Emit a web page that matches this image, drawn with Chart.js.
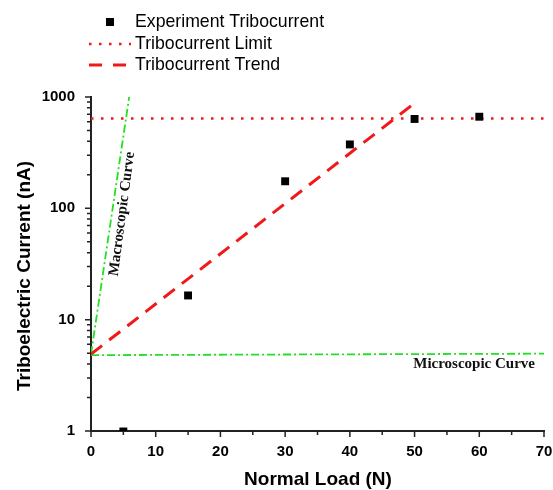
<!DOCTYPE html>
<html>
<head>
<meta charset="utf-8">
<script src="https://cdn.jsdelivr.net/npm/chart.js@4.4.0/dist/chart.umd.min.js"></script>
<style>
  body { margin: 0; background: #fff; }
</style>
</head>
<body>
<canvas id="tribo-chart" width="553" height="490"></canvas>
<script>
// measured tribocurrent
const load_points = [5, 15, 30, 40, 50, 60]
const current_points = [0.99, 16.5, 175, 375, 635, 665]

// limit line
const limit_x = [0, 70]
const limit_y = [640, 640]

// trend line
const trend_x = [0, 50.2]
const trend_y = [4.9, 900]

// guide curves
const macro_x = [0, 5.9]
const macro_y = [4.9, 1000]
const micro_x = [0, 70]
const micro_y = [4.8, 4.95]

// ticks
const x_major_ticks = [0, 10, 20, 30, 40, 50, 60, 70]
const x_minor_ticks = [5, 15, 25, 35, 45, 55, 65]
const y_major_ticks = [1, 10, 100, 1000]
const y_minor_ticks = [2, 3, 4, 5, 6, 7, 8, 9, 20, 30, 40, 50, 60, 70, 80, 90, 200, 300, 400, 500, 600, 700, 800, 900]

const legend_labels = ["Experiment Tribocurrent", "Tribocurrent Limit", "Tribocurrent Trend"]

function toPoints(xs, ys) {
  let pts = []
  for (let i = 0; i < xs.length; i++) {
    pts.push({x: xs[i], y: ys[i]})
  }
  return pts
}

const RED = '#f01818'
const GREEN = '#22e022'
const SANS = "'Liberation Sans', Arial, sans-serif"
const SERIF = "'Liberation Serif', 'Times New Roman', serif"

// ticks, titles, notes and legend
const extras = {
  id: 'extras',
  beforeDatasetsDraw(chart) {
    const ctx = chart.ctx
    const xs = chart.scales.x, ys = chart.scales.y
    const area = chart.chartArea
    ctx.save()
    ctx.strokeStyle = '#222'
    ctx.lineWidth = 1.5
    ctx.beginPath()
    x_major_ticks.forEach(v => { const p = xs.getPixelForValue(v); ctx.moveTo(p, area.bottom); ctx.lineTo(p, area.bottom + 6) })
    x_minor_ticks.forEach(v => { const p = xs.getPixelForValue(v); ctx.moveTo(p, area.bottom); ctx.lineTo(p, area.bottom + 4) })
    y_major_ticks.forEach(v => { const p = ys.getPixelForValue(v); ctx.moveTo(area.left, p); ctx.lineTo(area.left - 6, p) })
    y_minor_ticks.forEach(v => { const p = ys.getPixelForValue(v); ctx.moveTo(area.left, p); ctx.lineTo(area.left - 4, p) })
    ctx.stroke()
    ctx.restore()
  },
  afterDraw(chart) {
    const ctx = chart.ctx
    const xs = chart.scales.x, ys = chart.scales.y
    ctx.save()
    ctx.fillStyle = '#000'
    ctx.textAlign = 'center'
    ctx.textBaseline = 'middle'

    // axis titles
    ctx.font = "bold 19px " + SANS
    ctx.fillText("Normal Load (N)", 318, 480)
    ctx.save()
    ctx.translate(25, 276)
    ctx.rotate(-Math.PI / 2)
    ctx.fillText("Triboelectric Current (nA)", 0, 0)
    ctx.restore()

    // curve notes
    ctx.font = "bold 15px " + SERIF
    ctx.fillStyle = '#111'
    ctx.save()
    ctx.translate(xs.getPixelForValue(4.8), ys.getPixelForValue(89))
    ctx.rotate(-82.4 * Math.PI / 180)
    ctx.fillText("Macroscopic Curve", 0, 0)
    ctx.restore()
    ctx.fillText("Microscopic Curve", xs.getPixelForValue(59.2), ys.getPixelForValue(4.0))

    // legend
    ctx.textAlign = 'left'
    ctx.font = "17.7px " + SANS
    ctx.fillStyle = '#000'
    ctx.fillRect(106, 18, 8, 8)
    ctx.fillText(legend_labels[0], 135, 22)

    ctx.strokeStyle = RED
    ctx.lineWidth = 2.5
    ctx.setLineDash([2.5, 7.5])
    ctx.beginPath(); ctx.moveTo(89, 44); ctx.lineTo(131, 44); ctx.stroke()
    ctx.fillText(legend_labels[1], 135, 44)

    ctx.lineWidth = 3
    ctx.setLineDash([13, 11])
    ctx.beginPath(); ctx.moveTo(89, 65); ctx.lineTo(126, 65); ctx.stroke()
    ctx.setLineDash([])
    ctx.fillText(legend_labels[2], 135, 65)
    ctx.restore()
  }
}

new Chart(document.getElementById("tribo-chart"), {
  type: 'scatter',
  data: {
    datasets: [
      {
        label: legend_labels[0],
        data: toPoints(load_points, current_points),
        pointStyle: 'rect',
        pointRadius: 5.6,
        backgroundColor: '#000',
        borderColor: '#000',
        borderWidth: 0,
        showLine: false,
        clip: 0
      },
      {
        label: legend_labels[1],
        data: toPoints(limit_x, limit_y),
        showLine: true,
        borderColor: RED,
        borderWidth: 2.5,
        borderDash: [2.5, 7.5],
        pointRadius: 0
      },
      {
        label: legend_labels[2],
        data: toPoints(trend_x, trend_y),
        showLine: true,
        borderColor: RED,
        borderWidth: 3,
        borderDash: [14, 9],
        pointRadius: 0
      },
      {
        label: "Macroscopic Curve",
        data: toPoints(macro_x, macro_y),
        showLine: true,
        borderColor: GREEN,
        borderWidth: 1.8,
        borderDash: [8, 3, 2, 3],
        pointRadius: 0
      },
      {
        label: "Microscopic Curve",
        data: toPoints(micro_x, micro_y),
        showLine: true,
        borderColor: GREEN,
        borderWidth: 1.8,
        borderDash: [8, 3, 2, 3],
        pointRadius: 0
      }
    ]
  },
  options: {
    responsive: false,
    animation: false,
    events: [],
    layout: { padding: { top: 97, right: 9, left: 0, bottom: 0 } },
    plugins: { legend: { display: false }, tooltip: { enabled: false } },
    scales: {
      x: {
        type: 'linear',
        min: 0,
        max: 70,
        afterBuildTicks: s => { s.ticks = x_major_ticks.map(v => ({value: v})) },
        afterFit: s => { s.height = 59; s.paddingLeft = 0; s.paddingRight = 0 },
        grid: { display: false, drawTicks: false },
        border: { display: true, color: '#222', width: 2 },
        ticks: { color: '#000', padding: 12, maxRotation: 0, font: { family: SANS, size: 15, weight: 'bold' } }
      },
      y: {
        type: 'logarithmic',
        min: 1,
        max: 1000,
        afterBuildTicks: s => { s.ticks = y_major_ticks.map(v => ({value: v})) },
        afterFit: s => { s.width = 91; s.paddingTop = 0; s.paddingBottom = 0 },
        grid: { display: false, drawTicks: false },
        border: { display: true, color: '#222', width: 2 },
        ticks: { color: '#000', padding: 16, callback: v => String(v), font: { family: SANS, size: 15, weight: 'bold' } }
      }
    }
  },
  plugins: [extras]
});
</script>
</body>
</html>
